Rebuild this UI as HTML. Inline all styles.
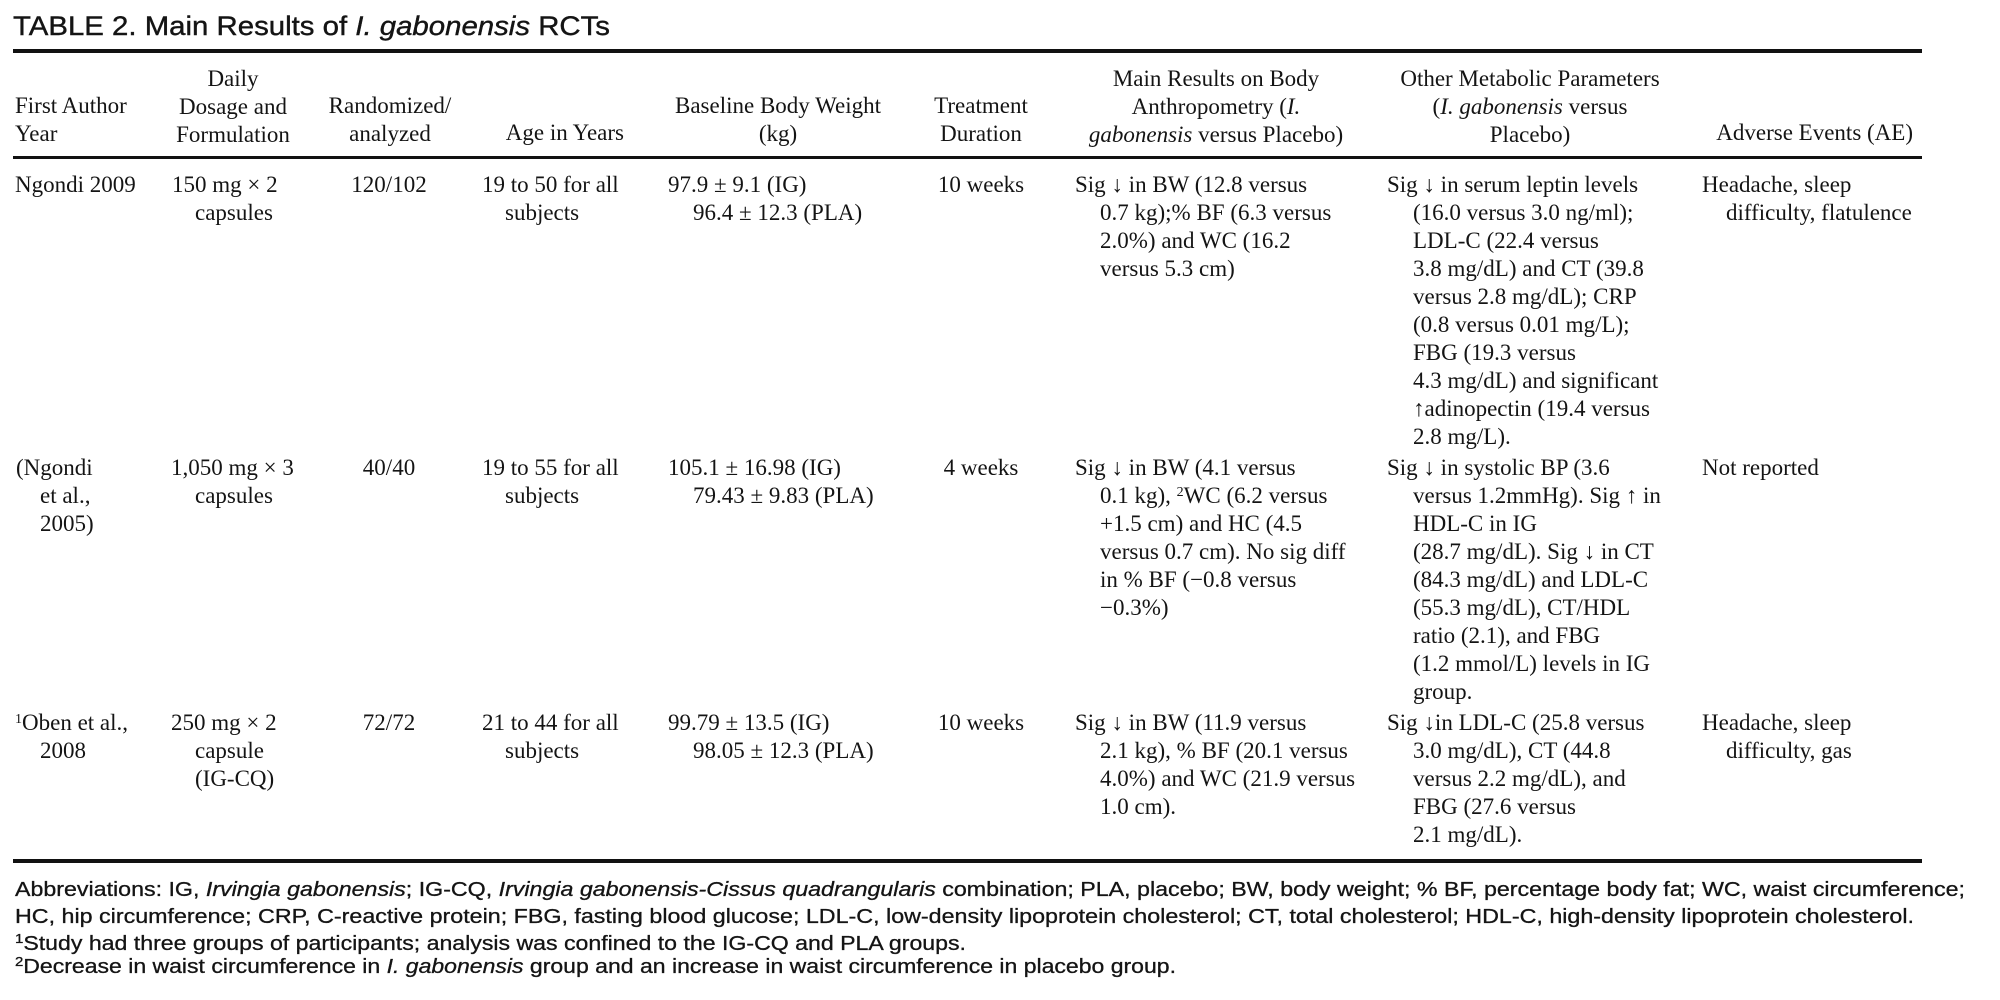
<!DOCTYPE html>
<html><head><meta charset="utf-8">
<style>
html,body{margin:0;padding:0;background:#fff;}
#pg{position:relative;width:2000px;height:1000px;overflow:hidden;background:#fff;color:#141414;}
.t{position:absolute;font-family:"Liberation Serif",serif;font-size:23px;line-height:28px;white-space:nowrap;}
.t span{display:block;}
.cc{transform:translateX(-50%);text-align:center;}
.rr{transform:translateX(-100%);text-align:right;}
.rule{position:absolute;background:#111;}
sup{font-size:14px;line-height:0;vertical-align:7px;}
svg{position:absolute;left:0;top:0;}
.i8{padding-left:26px;}
</style></head><body><div id="pg">
<svg width="2000" height="1000" font-family="Liberation Sans, sans-serif" fill="#141414">
<text x="13" y="35" font-size="27" textLength="597" lengthAdjust="spacingAndGlyphs" stroke="#141414" stroke-width="0.4">TABLE 2.  Main Results of <tspan font-style="italic">I. gabonensis</tspan> RCTs</text>
<text x="15" y="896" font-size="20" textLength="1950" lengthAdjust="spacingAndGlyphs" stroke="#141414" stroke-width="0.3">Abbreviations: IG, <tspan font-style="italic">Irvingia gabonensis</tspan>; IG-CQ, <tspan font-style="italic">Irvingia gabonensis-Cissus quadrangularis</tspan> combination; PLA, placebo; BW, body weight; % BF, percentage body fat; WC, waist circumference;</text>
<text x="15" y="923" font-size="20" textLength="1899" lengthAdjust="spacingAndGlyphs" stroke="#141414" stroke-width="0.3">HC, hip circumference; CRP, C-reactive protein; FBG, fasting blood glucose; LDL-C, low-density lipoprotein cholesterol; CT, total cholesterol; HDL-C, high-density lipoprotein cholesterol.</text>
<text x="15" y="950" font-size="20" textLength="951" lengthAdjust="spacingAndGlyphs" stroke="#141414" stroke-width="0.3"><tspan font-size="13" dy="-7">1</tspan><tspan dy="7">Study had three groups of participants; analysis was confined to the IG-CQ and PLA groups.</tspan></text>
<text x="15" y="973" font-size="20" textLength="1161" lengthAdjust="spacingAndGlyphs" stroke="#141414" stroke-width="0.3"><tspan font-size="13" dy="-7">2</tspan><tspan dy="7">Decrease in waist circumference in </tspan><tspan font-style="italic">I. gabonensis</tspan> group and an increase in waist circumference in placebo group.</text>
</svg>
<div class="rule" style="left:13px;top:49px;width:1909px;height:4px"></div>
<div class="rule" style="left:13px;top:156px;width:1909px;height:3px"></div>
<div class="rule" style="left:13px;top:859px;width:1909px;height:4px"></div>

<!-- header -->
<div class="t" style="left:15px;top:92px"><span>First Author</span><span>Year</span></div>
<div class="t cc" style="left:233px;top:65px"><span>Daily</span><span>Dosage and</span><span>Formulation</span></div>
<div class="t cc" style="left:390px;top:92px"><span>Randomized/</span><span>analyzed</span></div>
<div class="t rr" style="left:624px;top:119px"><span>Age in Years</span></div>
<div class="t cc" style="left:778px;top:92px"><span>Baseline Body Weight</span><span>(kg)</span></div>
<div class="t cc" style="left:981px;top:92px"><span>Treatment</span><span>Duration</span></div>
<div class="t cc" style="left:1216px;top:65px"><span>Main Results on Body</span><span>Anthropometry (<i>I.</i></span><span><i>gabonensis</i> versus Placebo)</span></div>
<div class="t cc" style="left:1530px;top:65px"><span>Other Metabolic Parameters</span><span>(<i>I. gabonensis</i> versus</span><span>Placebo)</span></div>
<div class="t rr" style="left:1913px;top:119px"><span>Adverse Events (AE)</span></div>

<!-- row 1 -->
<div class="t" style="left:15px;top:171px"><span>Ngondi 2009</span></div>
<div class="t" style="left:172px;top:171px"><span>150 mg × 2</span><span style="padding-left:23px">capsules</span></div>
<div class="t cc" style="left:389px;top:171px"><span>120/102</span></div>
<div class="t" style="left:482px;top:171px"><span>19 to 50 for all</span><span style="padding-left:23px">subjects</span></div>
<div class="t" style="left:668px;top:171px"><span>97.9 ± 9.1 (IG)</span><span style="padding-left:25px">96.4 ± 12.3 (PLA)</span></div>
<div class="t cc" style="left:981px;top:171px"><span>10 weeks</span></div>
<div class="t" style="left:1075px;top:171px"><span>Sig ↓ in BW (12.8 versus</span><span style="padding-left:25px">0.7 kg);% BF (6.3 versus</span><span style="padding-left:25px">2.0%) and WC (16.2</span><span style="padding-left:25px">versus 5.3 cm)</span></div>
<div class="t" style="left:1387px;top:171px"><span>Sig ↓ in serum leptin levels</span><span class="i8">(16.0 versus 3.0 ng/ml);</span><span class="i8">LDL-C (22.4 versus</span><span class="i8">3.8 mg/dL) and CT (39.8</span><span class="i8">versus 2.8 mg/dL); CRP</span><span class="i8">(0.8 versus 0.01 mg/L);</span><span class="i8">FBG (19.3 versus</span><span class="i8">4.3 mg/dL) and significant</span><span class="i8">↑adinopectin (19.4 versus</span><span class="i8">2.8 mg/L).</span></div>
<div class="t" style="left:1702px;top:171px"><span>Headache, sleep</span><span style="padding-left:24px">difficulty, flatulence</span></div>

<!-- row 2 -->
<div class="t" style="left:16px;top:454px"><span>(Ngondi</span><span style="padding-left:24px">et al.,</span><span style="padding-left:24px">2005)</span></div>
<div class="t" style="left:171px;top:454px"><span>1,050 mg × 3</span><span style="padding-left:24px">capsules</span></div>
<div class="t cc" style="left:389px;top:454px"><span>40/40</span></div>
<div class="t" style="left:482px;top:454px"><span>19 to 55 for all</span><span style="padding-left:23px">subjects</span></div>
<div class="t" style="left:668px;top:454px"><span>105.1 ± 16.98 (IG)</span><span style="padding-left:25px">79.43 ± 9.83 (PLA)</span></div>
<div class="t cc" style="left:981px;top:454px"><span>4 weeks</span></div>
<div class="t" style="left:1075px;top:454px"><span>Sig ↓ in BW (4.1 versus</span><span style="padding-left:25px">0.1 kg), <sup>2</sup>WC (6.2 versus</span><span style="padding-left:25px">+1.5 cm) and HC (4.5</span><span style="padding-left:25px">versus 0.7 cm). No sig diff</span><span style="padding-left:25px">in % BF (−0.8 versus</span><span style="padding-left:25px">−0.3%)</span></div>
<div class="t" style="left:1387px;top:454px"><span>Sig ↓ in systolic BP (3.6</span><span class="i8">versus 1.2mmHg). Sig ↑ in</span><span class="i8">HDL-C in IG</span><span class="i8">(28.7 mg/dL). Sig ↓ in CT</span><span class="i8">(84.3 mg/dL) and LDL-C</span><span class="i8">(55.3 mg/dL), CT/HDL</span><span class="i8">ratio (2.1), and FBG</span><span class="i8">(1.2 mmol/L) levels in IG</span><span class="i8">group.</span></div>
<div class="t" style="left:1702px;top:454px"><span>Not reported</span></div>

<!-- row 3 -->
<div class="t" style="left:15px;top:709px"><span><sup>1</sup>Oben et al.,</span><span style="padding-left:25px">2008</span></div>
<div class="t" style="left:171px;top:709px"><span>250 mg × 2</span><span style="padding-left:24px">capsule</span><span style="padding-left:24px">(IG-CQ)</span></div>
<div class="t cc" style="left:389px;top:709px"><span>72/72</span></div>
<div class="t" style="left:482px;top:709px"><span>21 to 44 for all</span><span style="padding-left:23px">subjects</span></div>
<div class="t" style="left:668px;top:709px"><span>99.79 ± 13.5 (IG)</span><span style="padding-left:25px">98.05 ± 12.3 (PLA)</span></div>
<div class="t cc" style="left:981px;top:709px"><span>10 weeks</span></div>
<div class="t" style="left:1075px;top:709px"><span>Sig ↓ in BW (11.9 versus</span><span style="padding-left:25px">2.1 kg), % BF (20.1 versus</span><span style="padding-left:25px">4.0%) and WC (21.9 versus</span><span style="padding-left:25px">1.0 cm).</span></div>
<div class="t" style="left:1387px;top:709px"><span>Sig ↓in LDL-C (25.8 versus</span><span class="i8">3.0 mg/dL), CT (44.8</span><span class="i8">versus 2.2 mg/dL), and</span><span class="i8">FBG (27.6 versus</span><span class="i8">2.1 mg/dL).</span></div>
<div class="t" style="left:1702px;top:709px"><span>Headache, sleep</span><span style="padding-left:24px">difficulty, gas</span></div>
</div></body></html>
